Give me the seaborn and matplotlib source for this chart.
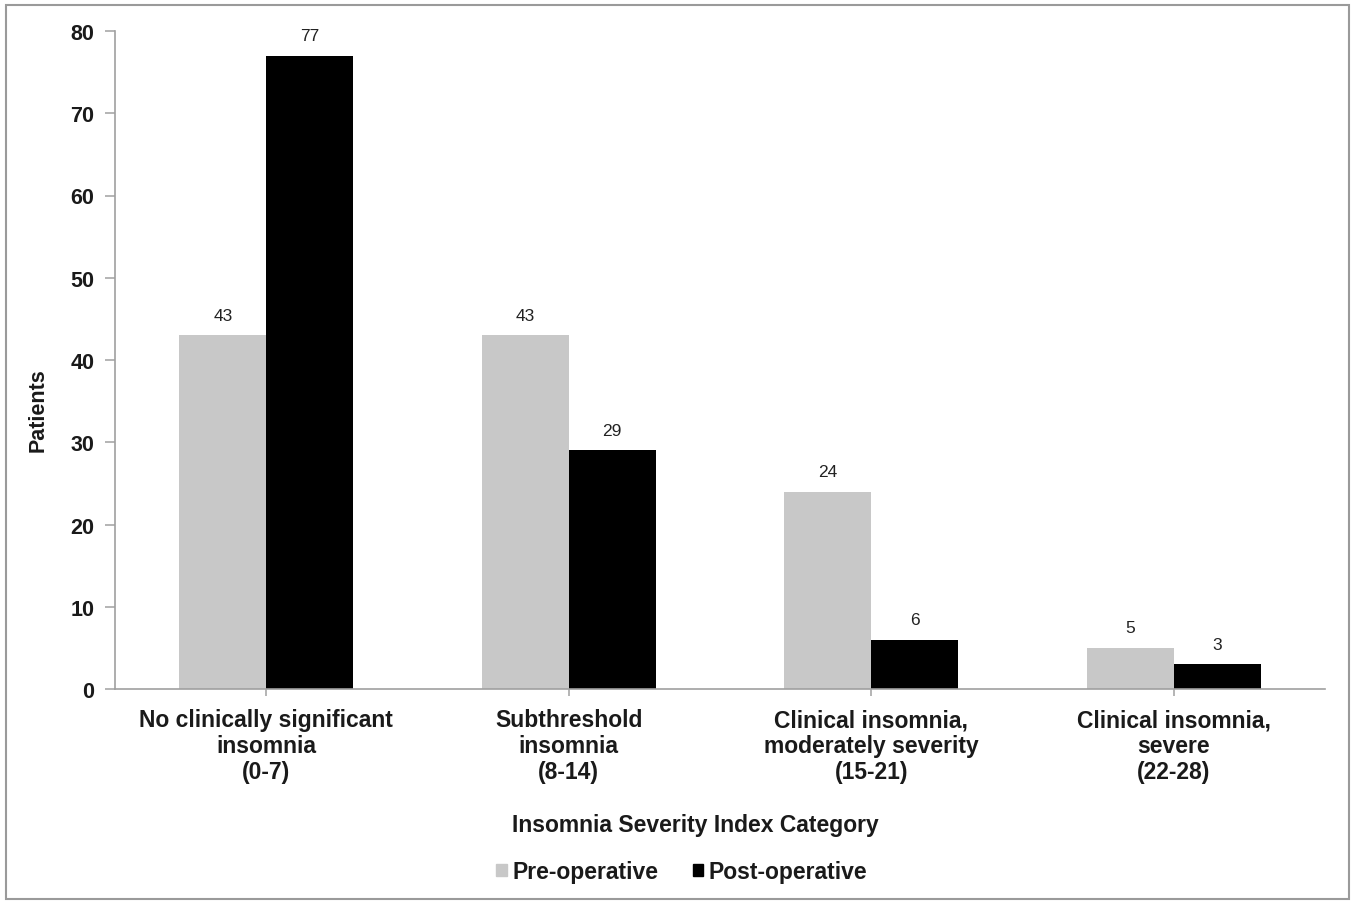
import matplotlib
matplotlib.use("Agg")
import matplotlib.pyplot as plt
import seaborn as sns
import pandas as pd
from matplotlib.patches import Rectangle

categories = [
    "No clinically significant\ninsomnia\n(0-7)",
    "Subthreshold\ninsomnia\n(8-14)",
    "Clinical insomnia,\nmoderately severity\n(15-21)",
    "Clinical insomnia,\nsevere\n(22-28)",
]
series = ["Pre-operative", "Post-operative"]
pre_operative = [43, 43, 24, 5]
post_operative = [77, 29, 6, 3]
y_ticks = [0, 10, 20, 30, 40, 50, 60, 70, 80]

df = pd.DataFrame({
    "category": categories * 2,
    "group": [series[0]] * 4 + [series[1]] * 4,
    "patients": pre_operative + post_operative,
})

sns.set_theme(style="white")
plt.rcParams["font.family"] = ["Liberation Sans", "DejaVu Sans"]

W, H = 1355, 904
fig = plt.figure(figsize=(W / 100, H / 100), dpi=100)
ax = fig.add_axes([115 / W, 1 - 690 / H, (1325 - 115) / W, (690 - 32) / H])

palette = {series[0]: "#c8c8c8", series[1]: "#000000"}
sns.barplot(data=df, x="category", y="patients", hue="group", order=categories,
            hue_order=series, palette=palette, width=0.575, gap=0, saturation=1,
            edgecolor="none", linewidth=0, legend=False, ax=ax)

for cont in ax.containers:
    ax.bar_label(cont, padding=9, fontsize=12.5, color="#222222")

ax.set_ylim(0, 80)
ax.set_xlim(-0.5, 3.5)
ax.set_yticks(y_ticks)
ax.set_yticklabels([str(v) for v in y_ticks], fontsize=15.5, fontweight="bold",
                   color="#1a1a1a")
ax.set_xticks(range(len(categories)))
ax.set_xticklabels(categories, fontsize=16.5, fontweight="bold", linespacing=1.15,
                   color="#1a1a1a")
ax.set_xlabel("")
ax.set_ylabel("")

for side in ["top", "right"]:
    ax.spines[side].set_visible(False)
for side in ["left", "bottom"]:
    ax.spines[side].set_color("#a0a0a0")
    ax.spines[side].set_linewidth(1.2)
ax.tick_params(axis="y", which="both", left=True, length=7, width=1.1,
               color="#a0a0a0", pad=8)
ax.tick_params(axis="x", which="both", bottom=True, length=5, width=1.1,
               color="#a0a0a0", pad=9)

fig.text(38 / W, 1 - 410 / H, "Patients", rotation=90, ha="center", va="center",
         fontsize=15.5, fontweight="bold", color="#1a1a1a")
fig.text(695 / W, 1 - 826 / H, "Insomnia Severity Index Category", ha="center",
         va="center", fontsize=16.5, fontweight="bold", color="#1a1a1a")

handles = [Rectangle((0, 0), 1, 1, color=palette[s]) for s in series]
leg = fig.legend(handles, series, loc="center", bbox_to_anchor=(682 / W, 1 - 873 / H),
                 ncol=2, frameon=False, prop={"size": 16.5, "weight": "bold"},
                 handlelength=0.45, handleheight=0.45, handletextpad=0.25,
                 columnspacing=1.5)
for t in leg.get_texts():
    t.set_color("#1a1a1a")

fig.add_artist(Rectangle((6 / W, 4 / H), (W - 12) / W, (H - 10) / H,
                         transform=fig.transFigure, fill=False,
                         edgecolor="#9a9a9a", linewidth=1.5))

fig.savefig("out.png", dpi=100)
